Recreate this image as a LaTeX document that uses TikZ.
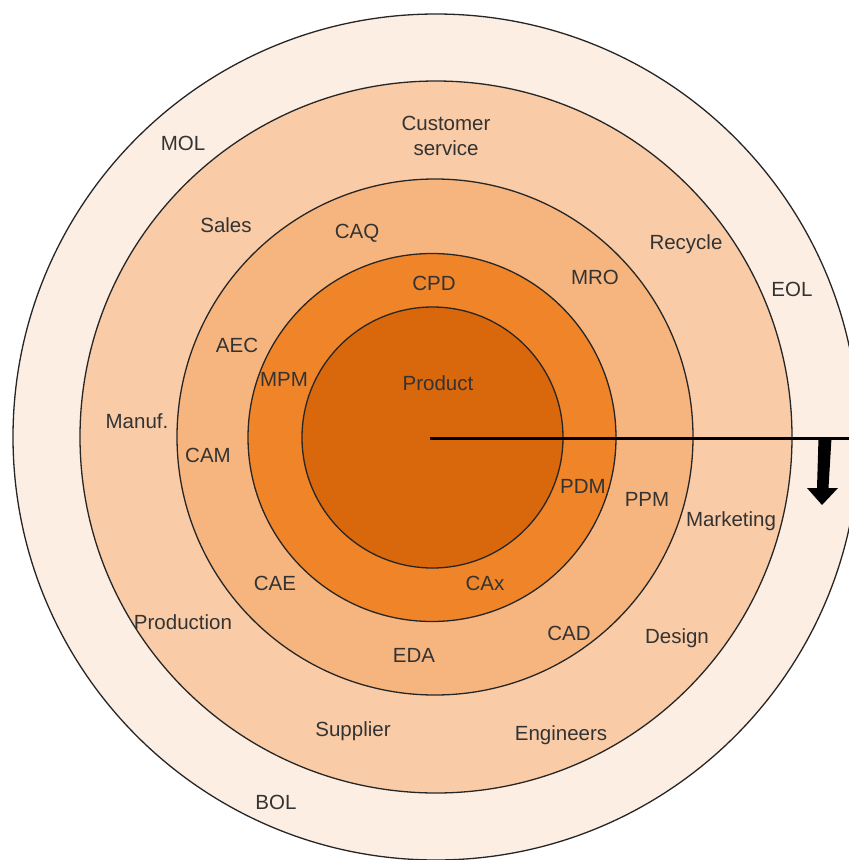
\documentclass[tikz,border=0pt]{standalone}
\usepackage{fontspec}
\setmainfont{Liberation Sans}
\begin{document}
\begin{tikzpicture}[x=1pt,y=-1pt,
  ring/.style={draw=black!85,line width=1.3pt},
  lbl/.style={text=black!80,font=\fontsize{20.5}{25}\selectfont,inner sep=0pt,align=center}]
\definecolor{ringA}{HTML}{FCEEE3}
\definecolor{ringB}{HTML}{F9CCA7}
\definecolor{ringC}{HTML}{F6B57E}
\definecolor{ringD}{HTML}{EF8428}
\definecolor{ringE}{HTML}{D9670C}
\useasboundingbox (0,0) rectangle (849,860);
\begin{scope}
\clip (0,0) rectangle (849,860);
% concentric lifecycle rings, outermost first
\fill[white] (0,0) rectangle (849,860);
\draw[ring,fill=ringA] (436,437) circle[radius=423];
\draw[ring,fill=ringB] (436,437) circle[radius=356];
\draw[ring,fill=ringC] (435,437) circle[radius=258];
\draw[ring,fill=ringD] (432,437.5) circle[radius=184];
\draw[ring,fill=ringE] (432.5,437.5) circle[radius=130.5];
% radius line and the downward arrow
\coordinate (hub) at (430,438);
\coordinate (rim) at (852,438);
\draw[line width=3pt] (hub) -- (rim);
\fill[black] (818.5,438) -- (831.5,438) -- (828.5,488) -- (838,488) -- (822,505)
  -- (807,488) -- (817,488) -- cycle;
\end{scope}
% labels
\node[lbl] (mol) at (183,143) {MOL};
\node[lbl] (cs) at (446,136) {Customer\\service};
\node[lbl] (sales) at (226,225) {Sales};
\node[lbl] (caq) at (357,233) {CAQ};
\node[lbl] (recycle) at (686,244) {Recycle};
\node[lbl] (mro) at (595,277) {MRO};
\node[lbl] (eol) at (792,289) {EOL};
\node[lbl] (cpd) at (434,283) {CPD};
\node[lbl] (aec) at (237,345) {AEC};
\node[lbl] (mpm) at (284,379) {MPM};
\node[lbl] (product) at (438,383) {Product};
\node[lbl] (manuf) at (137,421) {Manuf.};
\node[lbl] (cam) at (208,455) {CAM};
\node[lbl] (pdm) at (583,486) {PDM};
\node[lbl] (ppm) at (647,499) {PPM};
\node[lbl] (mkt) at (731,521) {Marketing};
\node[lbl] (cae) at (275,583) {CAE};
\node[lbl] (cax) at (485,583) {CAx};
\node[lbl] (prod) at (183,622) {Production};
\node[lbl] (cad) at (569,633) {CAD};
\node[lbl] (design) at (677,638) {Design};
\node[lbl] (eda) at (414,655) {EDA};
\node[lbl] (supp) at (353,731) {Supplier};
\node[lbl] (eng) at (561,735) {Engineers};
\node[lbl] (bol) at (276,802) {BOL};
\end{tikzpicture}
\end{document}
